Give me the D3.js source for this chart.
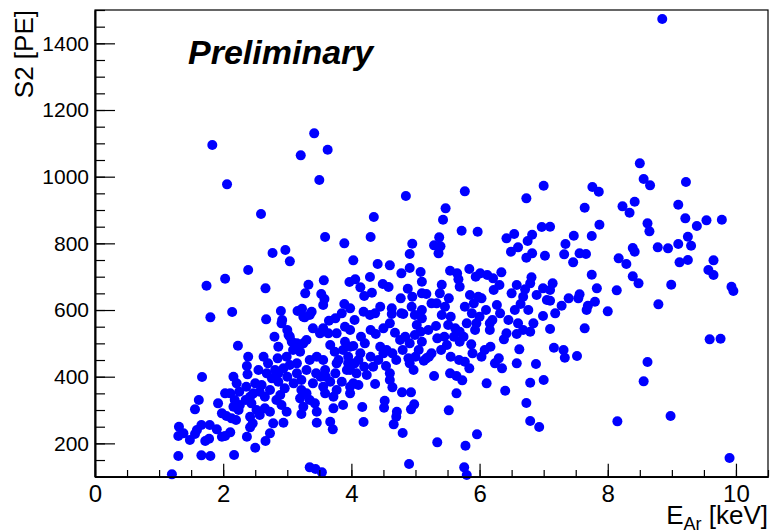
<!DOCTYPE html>
<html>
<head>
<meta charset="utf-8">
<script src="https://cdn.jsdelivr.net/npm/d3@7"></script>
<style>
  body { margin: 0; background: white; }
  text { font-family: 'Liberation Sans', Arial, sans-serif; }
</style>
</head>
<body>
<script>
/* DATA */
// E_Ar [keV] of each event
var eAr = [
  1.83, 2.06, 3.42, 3.21, 3.63, 3.50,
  8.85, 8.50, 8.56, 8.66, 9.22, 4.85, 5.77, 6.73, 7.00, 7.76, 7.86, 8.42,
  2.59, 3.59, 3.89, 2.77, 2.97, 3.04, 2.39, 2.03, 1.74, 2.66, 3.33, 3.57, 3.97, 3.28, 3.53, 3.58, 3.56, 3.89,
  1.80, 2.14, 2.90, 3.16, 3.23, 3.38, 3.25, 2.67, 2.92, 3.65,
  4.35, 5.47, 5.43, 4.30, 5.72, 5.97, 4.95, 5.37, 5.29, 5.39, 5.36, 4.91, 6.42, 6.54, 6.82, 6.75, 6.97, 7.10,
  6.60, 6.49, 6.82, 6.73, 7.02, 4.03, 4.41, 4.60, 4.91, 4.78, 5.08, 5.10, 4.29, 4.06, 4.14, 4.49, 4.58, 4.32,
  4.20, 4.88, 4.77, 4.95, 5.10, 5.17, 5.41, 5.38, 5.33, 5.52, 5.54, 5.65, 5.67, 5.69, 5.84, 5.94, 6.01, 6.12,
  6.21, 6.34, 6.31, 6.22, 5.85, 5.98, 5.91, 6.03, 5.77, 6.27, 6.32, 5.88, 6.58, 6.50, 6.71, 6.81, 6.79, 6.68,
  6.89, 6.99, 7.05, 6.64, 6.76, 6.99,
  3.98, 4.19, 4.37, 4.45, 4.63, 4.78, 4.94, 5.10, 5.25, 5.46,
  7.64, 8.23, 8.34, 9.10, 7.87, 8.62, 8.65, 9.21, 9.54, 9.78, 9.39, 7.47, 7.75, 7.34, 7.32, 7.56, 7.66, 7.46,
  8.39, 8.42, 8.78, 8.94, 9.10, 9.25, 9.30, 8.17, 8.29, 9.12, 9.25, 9.65, 9.57, 9.65, 8.39, 8.48, 8.99, 9.93,
  9.96, 7.75, 7.83, 8.14, 8.79, 8.00, 7.14, 7.10, 7.56, 7.54, 7.39, 7.10, 7.80, 7.69, 7.28, 7.18,
  7.67, 7.10, 7.64, 7.16, 7.31, 7.33, 7.52, 9.59, 9.76, 8.62, 8.56, 8.15, 8.98, 9.90,
  4.90, 5.76, 5.80, 5.34, 5.78, 5.96, 4.80, 4.66, 4.19, 4.17, 4.51, 4.52, 4.71, 4.70, 4.93, 4.98, 5.52, 5.64,
  4.79, 4.93, 4.64, 4.60, 4.37, 5.29, 5.54, 5.64, 5.73, 6.11, 6.40, 6.73, 6.79, 6.93, 6.79, 7.00, 6.58, 6.88,
  6.62, 6.35, 6.24, 6.30, 5.84, 5.77, 5.68, 5.55, 5.89, 6.03, 6.08, 6.17, 5.87, 5.21, 5.13, 4.97, 4.91, 4.89,
  4.60, 4.54, 4.64, 4.50, 4.42, 4.34, 4.24, 4.08, 4.03, 4.11, 3.98, 4.11, 4.21, 4.03, 3.98, 4.38, 4.68, 4.76,
  4.84, 4.91, 4.99, 5.10, 5.08, 5.02, 5.10, 4.99, 4.81, 4.63, 4.29, 5.32, 5.41, 5.51, 5.62, 5.69, 5.34, 5.49,
  5.69, 5.93, 5.95, 6.16, 6.16, 6.42, 6.38, 6.58, 6.68, 6.79, 6.84, 5.17, 3.98, 4.14, 3.98, 3.98,
  1.20, 1.30, 1.66, 1.80, 2.17, 2.50, 2.66, 2.73, 2.37, 2.42, 2.46, 2.03, 2.11, 1.72, 1.78, 1.48, 1.30, 1.38,
  1.31, 1.56, 1.59, 1.66, 1.79, 1.90, 1.98, 1.56, 1.62, 1.67, 2.23, 1.92, 1.98, 2.03, 2.11, 2.05, 2.13, 2.16,
  2.24, 2.18, 2.26, 2.16, 2.21, 2.25, 2.36, 2.38, 2.37, 2.39, 2.63, 2.42, 2.44, 2.52, 2.57, 2.42, 2.50, 2.47,
  2.57, 2.65, 2.73, 2.65, 2.73, 2.78, 2.94, 2.68, 2.76, 2.86, 2.81, 2.96, 2.89, 2.83, 2.91, 2.99, 2.86, 2.94,
  3.04, 3.15, 3.22, 3.30, 3.22, 3.30, 3.20, 3.25, 3.22, 3.35, 3.43, 3.46, 3.46, 3.67, 3.71, 3.52, 3.56, 3.59,
  3.72, 3.72, 3.87, 3.77, 3.85, 3.93, 3.67, 3.59, 3.56, 3.46, 3.35, 3.67, 3.74, 3.77, 3.87, 3.95, 3.90, 3.64,
  3.77, 3.51, 3.56, 3.90, 3.30, 3.15, 3.04, 3.09, 3.20, 2.99, 2.86, 2.91, 3.27, 3.35, 3.35, 3.44, 3.54, 3.02,
  3.07, 3.25, 2.60,
  2.20, 2.35, 2.55, 2.70, 2.85, 3.00, 3.10, 3.15, 3.40, 3.45, 3.60, 3.75, 3.80, 3.95, 4.05, 4.20, 4.30, 4.45,
  4.55, 4.70, 4.80, 5.00, 5.05, 5.25, 5.40, 5.45, 5.60, 5.75, 5.80, 6.00, 6.10, 6.20, 6.45, 6.55, 6.60, 5.55,
  5.20, 4.50, 4.60, 4.30, 4.15, 3.85, 3.75, 4.05, 3.40, 2.80, 3.00
];
// S2 [PE] of each event, same order as eAr
var s2 = [
  1095, 977, 1130, 1064, 1081, 990,
  1473, 1040, 993, 974, 984, 942, 956, 935, 973, 969, 955, 925,
  888, 819, 800, 771, 780, 746, 720, 694, 673, 665, 676, 689, 684, 650, 648, 633, 615, 618,
  578, 594, 597, 597, 604, 595, 580, 572, 570, 568,
  879, 905, 871, 819, 838, 835, 799, 818, 794, 791, 770, 768, 815, 828, 826, 807, 849, 850,
  788, 775, 770, 757, 763, 749, 738, 734, 726, 710, 714, 685, 699, 692, 668, 678, 669, 652,
  642, 664, 635, 640, 650, 648, 676, 650, 620, 635, 718, 710, 692, 670, 723, 700, 710, 705,
  695, 713, 675, 660, 645, 640, 620, 635, 610, 615, 590, 590, 675, 650, 662, 698, 680, 640,
  645, 665, 630, 618, 600, 582,
  605, 595, 590, 610, 605, 590, 610, 600, 620, 610,
  907, 911, 892, 916, 856, 860, 836, 875, 869, 871, 852, 823, 822, 798, 767, 770, 768, 743,
  786, 775, 788, 785, 798, 820, 793, 755, 738, 743, 750, 749, 720, 705, 701, 680, 676, 670,
  657, 706, 665, 659, 617, 596, 680, 660, 647, 635, 635, 628, 625, 613, 613, 590,
  600, 543, 545, 487, 480, 457, 462, 512, 514, 444, 386, 266, 282, 156,
  138, 128, 105, 203, 193, 227, 231, 257, 264, 309, 307, 328, 295, 280, 302, 317, 299, 350,
  353, 353, 368, 390, 378, 402, 410, 402, 389, 380, 358, 321, 267, 249, 382, 390, 440, 438,
  482, 425, 440, 455, 425, 445, 450, 460, 470, 460, 480, 490, 497, 460, 448, 420, 440, 455,
  410, 432, 470, 470, 450, 430, 405, 410, 380, 375, 350, 450, 500, 492, 540, 528, 532, 510,
  520, 500, 525, 505, 535, 555, 575, 585, 588, 588, 585, 552, 585, 555, 545, 535, 515, 495,
  505, 540, 560, 560, 540, 530, 512, 528, 540, 535, 560, 455, 490, 470, 420, 370,
  107, 162, 164, 162, 165, 187, 207, 230, 220, 248, 260, 222, 233, 207, 214, 210, 222, 230,
  250, 228, 240, 255, 255, 242, 220, 302, 330, 399, 493, 320, 290, 350, 350, 282, 275, 310,
  300, 330, 315, 400, 380, 355, 370, 407, 432, 460, 460, 340, 320, 300, 285, 280, 380, 350,
  355, 340, 360, 305, 295, 260, 262, 410, 395, 385, 420, 365, 345, 330, 315, 295, 410, 425,
  435, 410, 390, 420, 360, 350, 335, 310, 288, 330, 320, 295, 262, 265, 242, 400, 370, 350,
  340, 305, 315, 360, 385, 420, 385, 420, 450, 460, 450, 495, 475, 440, 480, 460, 505, 530,
  530, 530, 545, 550, 510, 500, 520, 480, 475, 460, 490, 560, 578, 585, 128, 123, 113, 525,
  505, 500, 375,
  270, 330, 420, 440, 455, 400, 380, 440, 380, 410, 400, 410, 450, 440, 440, 430, 460, 490,
  480, 450, 480, 460, 480, 470, 480, 520, 520, 520, 560, 580, 600, 570, 570, 600, 560, 580,
  540, 545, 560, 540, 520, 590, 575, 570, 545, 520, 540
];

var xMajorTicks = [0, 2, 4, 6, 8, 10];
var yMajorTicks = [200, 400, 600, 800, 1000, 1200, 1400];

/* LAYOUT */
var width = 771;
var height = 531;
var frameLeft = 95, frameRight = 768, frameTop = 10, frameBottom = 476.7;
var xMin = 0, xMax = 10.5, yMin = 100, yMax = 1500;
var markerColor = '#0000ff';
var markerRadius = 5;

const x = d3.scaleLinear().domain([xMin, xMax]).range([frameLeft, frameRight]);
const y = d3.scaleLinear().domain([yMin, yMax]).range([frameBottom, frameTop]);

// minor ticks every 0.5 keV and every 50 PE
const xMinorTicks = d3.range(xMin, xMax + 0.001, 0.5);
const yMinorTicks = d3.range(yMin, yMax + 0.001, 50);

const svg = d3.select('body').append('svg')
    .attr('width', width)
    .attr('height', height);

svg.append('rect')
    .attr('width', width)
    .attr('height', height)
    .attr('fill', 'white');

// frame
svg.append('rect')
    .attr('x', frameLeft)
    .attr('y', frameTop)
    .attr('width', frameRight - frameLeft)
    .attr('height', frameBottom - frameTop)
    .attr('fill', 'none')
    .attr('stroke', '#000')
    .attr('stroke-width', 1.2);

// markers
svg.append('g')
    .selectAll('circle')
    .data(eAr.map((e, i) => [e, s2[i]]))
    .join('circle')
    .attr('cx', d => x(d[0]))
    .attr('cy', d => y(d[1]))
    .attr('r', markerRadius)
    .attr('fill', markerColor);

// x axis: ticks point into the frame like ROOT
const xMinorAxis = svg.append('g')
    .attr('transform', `translate(0,${frameBottom})`)
    .call(d3.axisBottom(x).tickValues(xMinorTicks).tickSizeInner(-6.7).tickSizeOuter(0).tickFormat(''));
const xAxis = svg.append('g')
    .attr('transform', `translate(0,${frameBottom})`)
    .call(d3.axisBottom(x).tickValues(xMajorTicks).tickSizeInner(-13).tickSizeOuter(0).tickPadding(8).tickFormat(d3.format('d')));
xAxis.selectAll('text')
    .attr('fill', '#000')
    .style('font-size', '24px');

const yMinorAxis = svg.append('g')
    .attr('transform', `translate(${frameLeft},0)`)
    .call(d3.axisLeft(y).tickValues(yMinorTicks).tickSizeInner(-10).tickSizeOuter(0).tickFormat(''));
const yAxis = svg.append('g')
    .attr('transform', `translate(${frameLeft},0)`)
    .call(d3.axisLeft(y).tickValues(yMajorTicks).tickSizeInner(-20).tickSizeOuter(0).tickPadding(6).tickFormat(d3.format('d')));
yAxis.selectAll('text')
    .attr('fill', '#000')
    .style('font-size', '21px');

svg.selectAll('.domain').attr('stroke', '#000').attr('stroke-width', 1.6);
svg.selectAll('.tick line').attr('stroke', '#000').attr('stroke-width', 1.2);

// axis titles
const xTitle = svg.append('text')
    .attr('x', frameRight)
    .attr('y', 524)
    .attr('text-anchor', 'end')
    .style('font-size', '26px')
    .attr('fill', '#000');
xTitle.append('tspan').text('E');
xTitle.append('tspan').attr('dy', 6).style('font-size', '18px').text('Ar');
xTitle.append('tspan').attr('dy', -6).text(' [keV]');

svg.append('text')
    .attr('transform', `translate(33,${frameTop}) rotate(-90)`)
    .attr('text-anchor', 'end')
    .style('font-size', '26px')
    .attr('fill', '#000')
    .text('S2 [PE]');

svg.append('text')
    .attr('x', 188)
    .attr('y', 64)
    .style('font-size', '34px')
    .style('font-weight', 'bold')
    .style('font-style', 'italic')
    .attr('fill', '#000')
    .text('Preliminary');
</script>
</body>
</html>
